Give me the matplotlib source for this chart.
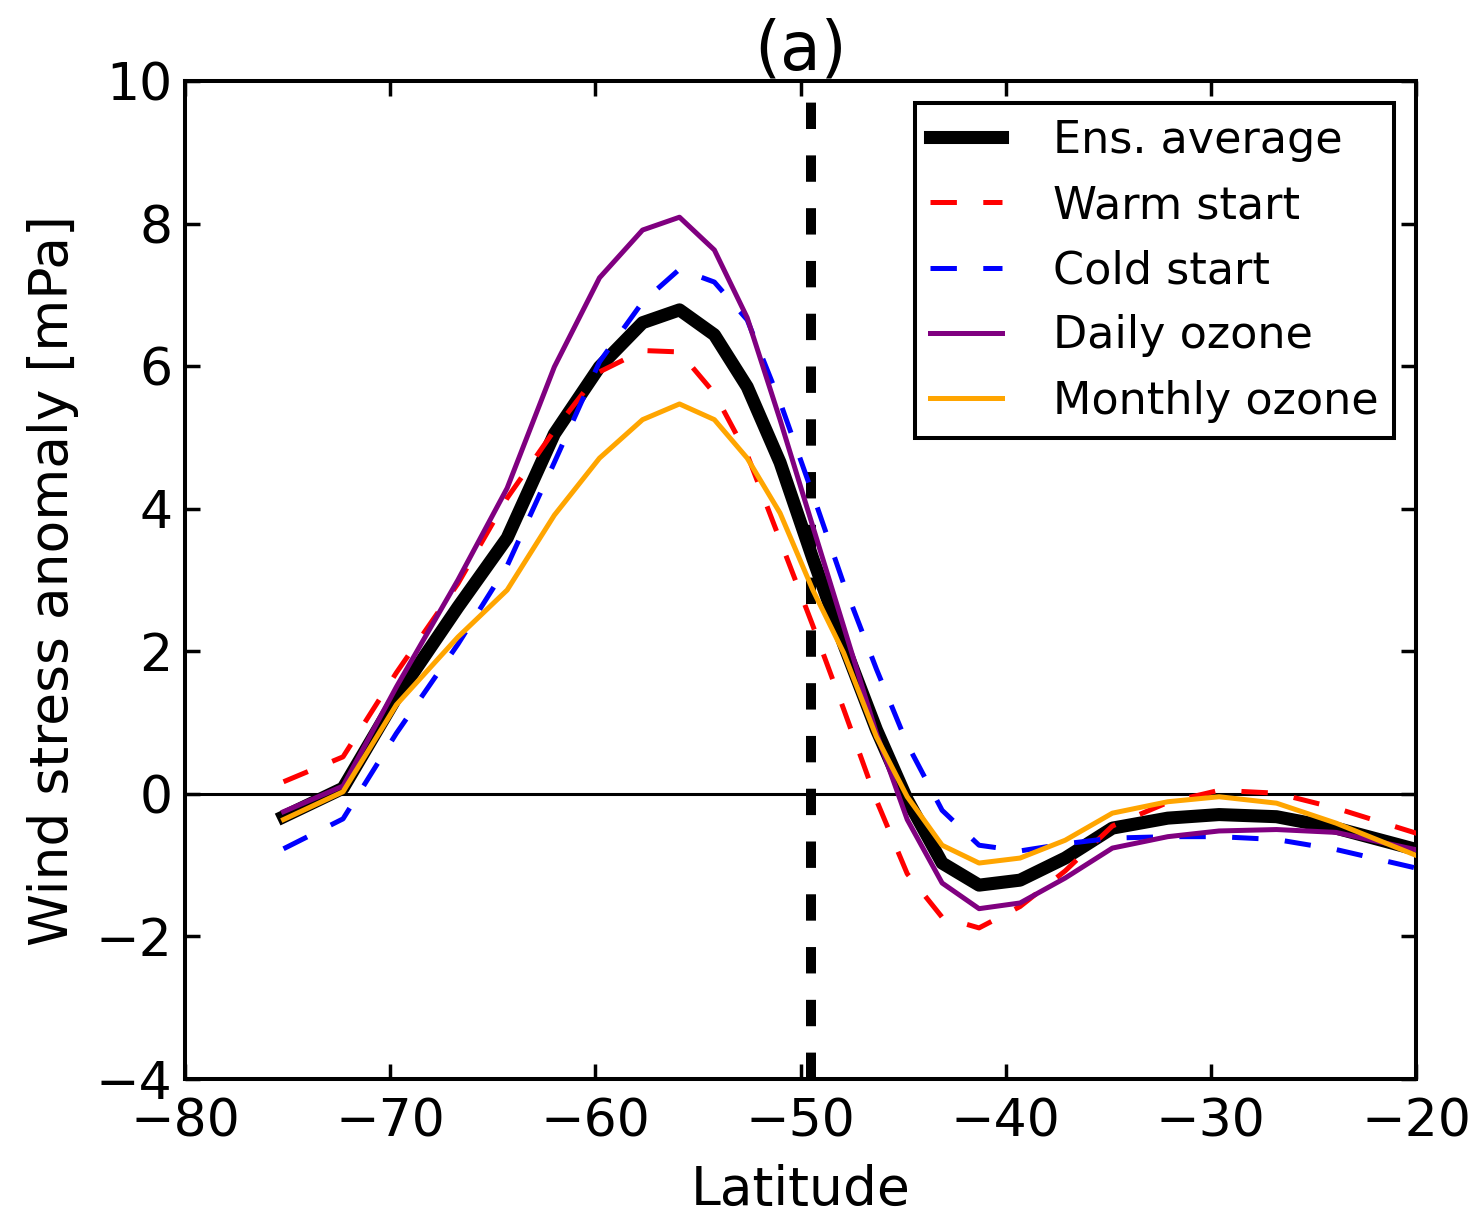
import numpy as np
import matplotlib
matplotlib.use('Agg')
import matplotlib.pyplot as plt

# Широти точок сітки
lat = [-75.2, -72.3, -69.7, -66.7, -64.3, -62.0, -59.8, -57.7, -55.9, -54.2,
       -52.6, -51.0, -49.4, -47.9, -46.3, -44.8, -43.1, -41.3, -39.3, -37.1,
       -34.8, -32.1, -29.6, -26.8, -23.9, -17.0]

# Аномалії напруження вітру [мПа]
ens_avg = [-0.32, 0.08, 1.35, 2.62, 3.59, 5.05, 5.99, 6.61, 6.79, 6.44,
           5.71, 4.65, 3.30, 2.10, 0.90, -0.08, -0.97, -1.28, -1.21, -0.90,
           -0.48, -0.34, -0.29, -0.32, -0.48, -1.01]
warm = [0.17, 0.52, 1.70, 2.95, 4.15, 5.10, 5.92, 6.22, 6.20, 5.62,
        4.76, 3.56, 2.36, 1.19, -0.09, -1.12, -1.73, -1.88, -1.58, -1.08,
        -0.45, -0.12, 0.05, 0.01, -0.20, -0.82]
cold = [-0.77, -0.35, 0.85, 2.10, 3.20, 4.65, 6.06, 6.90, 7.36, 7.18,
        6.65, 5.50, 4.20, 2.95, 1.75, 0.70, -0.23, -0.72, -0.80, -0.70,
        -0.62, -0.60, -0.60, -0.64, -0.78, -1.24]
daily = [-0.25, 0.11, 1.50, 3.00, 4.29, 5.99, 7.24, 7.91, 8.09, 7.63,
         6.68, 5.25, 3.75, 2.35, 0.85, -0.36, -1.25, -1.61, -1.53, -1.18,
         -0.76, -0.60, -0.52, -0.50, -0.54, -0.97]
monthly = [-0.36, 0.03, 1.25, 2.20, 2.86, 3.91, 4.71, 5.25, 5.47, 5.25,
           4.71, 3.94, 2.86, 1.98, 0.80, -0.04, -0.72, -0.97, -0.90, -0.65,
           -0.27, -0.11, -0.04, -0.13, -0.41, -1.21]

# Широта вертикальної лінії
lat_mark = -49.5

xticks = [-80, -70, -60, -50, -40, -30, -20]
yticks = [-4, -2, 0, 2, 4, 6, 8, 10]

plt.rcParams['lines.scale_dashes'] = False
plt.rcParams['lines.solid_capstyle'] = 'projecting'

fig = plt.figure(figsize=(14.84, 12.15), dpi=100)
ax = fig.add_axes([0.1247, 0.1119, 0.8295, 0.8214])

# Допоміжні лінії
ax.axhline(0, color='black', linewidth=2.2, zorder=1)
ax.axvline(lat_mark, color='black', linewidth=7.2, dashes=(19, 19), zorder=1)

# Побудова кривих
ax.plot(lat, ens_avg, color='black', linewidth=9.4, label='Ens. average', zorder=2)
ax.plot(lat, warm, color='red', linewidth=3.6, dashes=(19, 19), label='Warm start', zorder=3)
ax.plot(lat, cold, color='blue', linewidth=3.6, dashes=(19, 19), label='Cold start', zorder=3)
ax.plot(lat, daily, color='purple', linewidth=3.6, label='Daily ozone', zorder=4)
ax.plot(lat, monthly, color='orange', linewidth=3.6, label='Monthly ozone', zorder=5)

ax.set_xlim(-80, -20)
ax.set_ylim(-4, 10)
ax.set_xticks(xticks)
ax.set_yticks(yticks)
ax.tick_params(direction='in', top=True, right=True, length=11, width=2.5,
               labelsize=37.5)
ax.tick_params(axis='x', pad=13)
ax.tick_params(axis='y', pad=9)
for s in ax.spines.values():
    s.set_linewidth(2.9)

# Заголовок та підписи осей
ax.set_title('(a)', fontsize=48, pad=8)
ax.set_xlabel('Latitude', fontsize=38.5, labelpad=12)
ax.set_ylabel('Wind stress anomaly [mPa]', fontsize=38.5, labelpad=12)

leg = ax.legend(loc='upper right', fontsize=32, handlelength=1.6,
                handletextpad=1.15, labelspacing=0.5, borderpad=0.35,
                borderaxespad=0.5, fancybox=False, framealpha=1)
leg.get_frame().set_edgecolor('black')
leg.get_frame().set_linewidth(2.9)

fig.savefig('out.png', dpi=100)
